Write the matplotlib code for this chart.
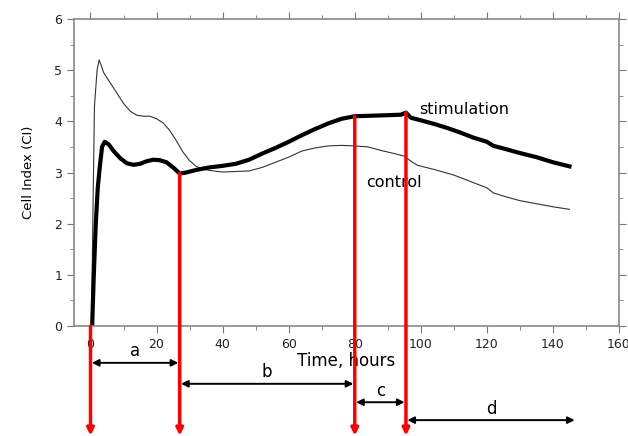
import matplotlib.pyplot as plt
from matplotlib.ticker import MultipleLocator

# control curve (thin)
t_control = [0.3, 0.8, 1.2, 2.0, 2.6, 3.2, 4, 6, 8, 10, 12, 14, 16, 18, 20, 22, 24, 26, 28, 30,
             32, 34, 36, 40, 44, 48, 52, 56, 60, 64, 68, 72, 76, 80, 84, 88, 92, 95, 97, 99,
             104, 110, 116, 120, 122, 126, 130, 135, 140, 145]
ci_control = [0, 2.5, 4.3, 5.0, 5.2, 5.1, 4.95, 4.75, 4.55, 4.35, 4.2, 4.12, 4.1, 4.1, 4.05, 3.97,
              3.82, 3.62, 3.4, 3.23, 3.12, 3.07, 3.04, 3.01, 3.02, 3.03, 3.1, 3.2, 3.3, 3.42,
              3.48, 3.52, 3.53, 3.52, 3.5, 3.43, 3.37, 3.32, 3.22, 3.14, 3.06, 2.95, 2.8, 2.7,
              2.6, 2.52, 2.45, 2.39, 2.33, 2.28]

# stimulation curve (thick)
t_stim = [0.5, 1, 1.6, 2.2, 2.8, 3.5, 4.3, 5.5, 7, 9, 11, 13, 15, 17, 19, 21, 23, 25, 27, 29,
          32, 36, 40, 44, 48, 52, 56, 60, 64, 68, 72, 76, 80, 85, 90, 94, 95.5, 97, 100, 104,
          108, 112, 116, 120, 122, 125, 130, 135, 140, 145]
ci_stim = [0, 1.0, 2.0, 2.7, 3.1, 3.5, 3.6, 3.55, 3.42, 3.28, 3.18, 3.15, 3.17, 3.22, 3.25, 3.24,
           3.2, 3.1, 2.98, 3.0, 3.05, 3.1, 3.13, 3.17, 3.25, 3.37, 3.48, 3.6, 3.73, 3.85, 3.96,
           4.05, 4.1, 4.11, 4.12, 4.13, 4.17, 4.07, 4.02, 3.95, 3.87, 3.78, 3.68, 3.6, 3.52,
           3.47, 3.38, 3.3, 3.2, 3.12]

# phase boundaries (hours) and phase labels
boundaries = [0, 27, 80, 95.5]
phase_start = [0, 27, 80, 95.5]
phase_end = [27, 80, 95.5, 147]
phase_names = ['a', 'b', 'c', 'd']
phase_y = [-0.72, -1.13, -1.49, -1.84]

fig = plt.figure(figsize=(6.28, 4.36), dpi=100)
ax = fig.add_axes([0.1178, 0.2523, 0.8679, 0.7041])

ax.plot(t_control, ci_control, color='#333333', lw=0.8)
ax.plot(t_stim, ci_stim, color='black', lw=3)

ax.set_xlim(-5, 160)
ax.set_ylim(0, 6)
ax.xaxis.set_major_locator(MultipleLocator(20))
ax.xaxis.set_minor_locator(MultipleLocator(10))
ax.yaxis.set_major_locator(MultipleLocator(1))
ax.yaxis.set_minor_locator(MultipleLocator(0.5))
ax.tick_params(which='both', direction='out', colors='#777777', labelcolor='#222222',
               labelsize=9, top=True, right=True)
ax.tick_params(which='major', length=5)
ax.tick_params(which='minor', length=3)
for s in ax.spines.values():
    s.set_color('#888888')
    s.set_linewidth(1.2)

ax.set_ylabel('Cell Index (CI)', fontsize=9.5, labelpad=14)
ax.set_xlabel('Time, hours', fontsize=12, labelpad=1)

ax.text(99.5, 4.24, 'stimulation', fontsize=11.5, va='center')
ax.text(83.5, 2.81, 'control', fontsize=11.5, va='center')

# red vertical arrows from curve down
tops = [0, 2.98, 4.1, 4.17]
for x, top in zip(boundaries, tops):
    ax.annotate('', xy=(x, -2.14), xytext=(x, top), annotation_clip=False,
                arrowprops=dict(arrowstyle='-|>', color='red', lw=2.5,
                                mutation_scale=10, shrinkA=0, shrinkB=0))

# black double-headed phase arrows
for x0, x1, name, y in zip(phase_start, phase_end, phase_names, phase_y):
    ax.annotate('', xy=(x1, y), xytext=(x0, y), annotation_clip=False,
                arrowprops=dict(arrowstyle='<|-|>', color='black', lw=1.4,
                                mutation_scale=10, shrinkA=1, shrinkB=1))
    ax.text((x0 + x1) / 2, y + 0.05, name, fontsize=12, ha='center', va='bottom',
            clip_on=False)

fig.savefig('out.png', dpi=100)
